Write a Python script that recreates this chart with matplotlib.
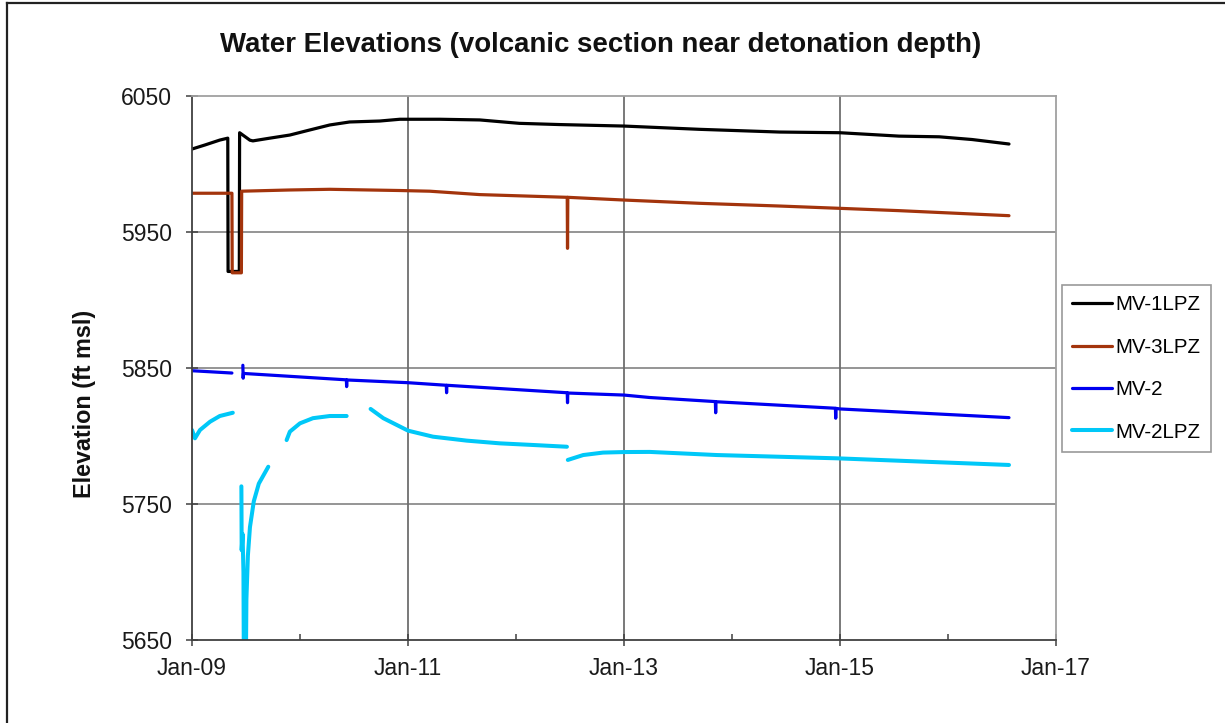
import matplotlib
matplotlib.use("Agg")
import matplotlib.pyplot as plt
import matplotlib.dates as mdates
from matplotlib.lines import Line2D
import numpy as np
import pandas as pd

plt.rcParams['font.family'] = ['Liberation Sans', 'DejaVu Sans']

# ---------------- data ----------------
mv1lpz_dates = ["2009-01-01", "2009-02-14", "2009-04-05", "2009-05-02", "2009-05-03", "2009-06-10",
                "2009-06-11", "2009-07-16", "2009-07-26", "2009-09-21", "2009-11-28", "2010-02-03",
                "2010-04-12", "2010-06-18", "2010-09-28", "2010-12-05", "2011-04-19", "2011-09-01",
                "2012-01-13", "2012-05-28", "2013-01-01", "2013-09-13", "2014-06-11", "2015-01-01",
                "2015-07-20", "2015-12-03", "2016-03-23", "2016-07-26"]
mv1lpz_vals = [6011.0, 6014.0, 6017.6, 6019.0, 5921.0, 5921.0,
               6023.0, 6017.5, 6017.0, 6019.0, 6021.3, 6025.0,
               6028.7, 6030.9, 6031.6, 6032.9, 6032.9, 6032.4,
               6029.9, 6029.0, 6027.9, 6025.5, 6023.5, 6023.0,
               6020.5, 6020.0, 6018.0, 6014.7]

mv3lpz_dates = ["2009-01-01", "2009-05-16", "2009-05-17", "2009-06-17", "2009-06-18", "2009-11-28",
                "2010-04-12", "2010-12-05", "2011-03-16", "2011-09-01", "2012-06-23", "2012-06-24",
                "2012-06-25", "2013-01-01", "2013-09-13", "2014-06-11", "2015-01-01", "2015-07-20",
                "2016-07-26"]
mv3lpz_vals = [5978.5, 5978.5, 5920.0, 5920.0, 5980.0, 5980.9,
               5981.4, 5980.5, 5980.0, 5977.5, 5975.5, 5938.0,
               5975.5, 5973.5, 5971.1, 5969.1, 5967.4, 5965.7,
               5962.0]

mv2_dates = ["2009-01-01", "2009-05-16", "2009-05-30", "2009-06-22", "2009-06-23", "2009-06-24",
             "2010-06-07", "2010-06-08", "2010-06-09", "2011-01-01", "2011-05-11", "2011-05-12",
             "2011-05-13", "2012-06-23", "2012-06-24", "2012-06-25", "2013-01-01", "2013-03-29",
             "2013-11-06", "2013-11-07", "2013-11-08", "2014-12-17", "2014-12-18", "2014-12-19",
             "2015-01-01", "2016-07-26"]
mv2_vals = [5848.0, 5846.3, np.nan, 5852.0, 5842.5, 5846.0,
            5841.3, 5836.3, 5841.2, 5839.2, 5837.3, 5831.8,
            5837.3, 5831.8, 5824.5, 5831.6, 5830.1, 5828.3,
            5825.3, 5817.1, 5825.2, 5820.4, 5813.1, 5820.3,
            5819.9, 5813.5]

mv2lpz_dates = ["2009-01-01", "2009-01-11", "2009-01-28", "2009-03-03", "2009-04-05", "2009-05-19",
                "2009-06-01",
                "2009-06-17", "2009-06-18", "2009-06-21", "2009-06-24", "2009-06-26", "2009-07-01",
                "2009-07-04", "2009-07-09", "2009-07-16", "2009-07-29", "2009-08-15", "2009-09-16",
                "2009-10-15",
                "2009-11-17", "2009-11-28", "2010-01-01", "2010-02-14", "2010-04-12", "2010-06-08",
                "2010-07-15",
                "2010-08-28", "2010-10-10", "2011-01-02", "2011-03-27", "2011-07-19", "2011-11-08",
                "2012-02-28", "2012-06-22",
                "2012-06-23",
                "2012-06-25", "2012-08-16", "2012-10-22", "2013-01-01", "2013-03-29", "2013-11-11",
                "2014-12-21", "2016-07-26"]
mv2lpz_vals = [5804.4, 5798.3, 5804.4, 5810.5, 5814.7, 5817.1,
               np.nan,
               5763.0, 5716.0, 5728.0, 5700.0, 5600.0, 5600.0,
               5680.0, 5712.0, 5733.0, 5752.0, 5765.0, 5777.4,
               np.nan,
               5797.0, 5803.2, 5809.3, 5813.1, 5814.7, 5814.7,
               np.nan,
               5819.9, 5813.1, 5803.9, 5799.5, 5796.6, 5794.6,
               5793.4, 5792.1,
               np.nan,
               5782.4, 5786.0, 5787.8, 5788.2, 5788.3, 5786.0,
               5783.6, 5778.7]

series_names = ["MV-1LPZ", "MV-3LPZ", "MV-2", "MV-2LPZ"]
series_colors = ["#000000", "#A3340C", "#0000F0", "#00C8F8"]

y_ticks = [5650, 5750, 5850, 5950, 6050]
x_tick_labels = ["Jan-09", "Jan-11", "Jan-13", "Jan-15", "Jan-17"]
x_tick_dates = ["2009-01-01", "2011-01-01", "2013-01-01", "2015-01-01", "2017-01-01"]

# ---------------- figure ----------------
fig = plt.figure(figsize=(12.25, 7.23), dpi=100)
ax = fig.add_axes([192/1225, 1 - 640/723, (1056-192)/1225, (640-96)/723])

series = [(mv1lpz_dates, mv1lpz_vals), (mv3lpz_dates, mv3lpz_vals),
          (mv2_dates, mv2_vals), (mv2lpz_dates, mv2lpz_vals)]
widths = [2.3, 2.3, 2.3, 2.9]
handles = []
for (d, v), name, c, w in zip(series, series_names, series_colors, widths):
    h, = ax.plot(pd.to_datetime(d), v, color=c, lw=w, label=name,
                 solid_capstyle='round', solid_joinstyle='round')
    handles.append(h)

ax.set_xlim(pd.Timestamp("2009-01-01"), pd.Timestamp("2017-01-01"))
ax.set_ylim(5650, 6050)
ax.set_yticks(y_ticks)
ax.set_xticks(pd.to_datetime(x_tick_dates))
ax.set_xticklabels(x_tick_labels)
ax.xaxis.set_minor_locator(mdates.YearLocator(1))

ax.grid(False)
for yv in y_ticks[1:-1]:
    ax.axhline(yv, color="#8C8C8C", lw=1.3, zorder=0.5)
for xd in x_tick_dates[1:-1]:
    ax.axvline(pd.Timestamp(xd), color="#6E6E6E", lw=1.3, zorder=0.5)

for s in ["top", "right"]:
    ax.spines[s].set_color("#A0A0A0")
    ax.spines[s].set_linewidth(1.3)
for s in ["left", "bottom"]:
    ax.spines[s].set_color("#404040")
    ax.spines[s].set_linewidth(1.3)

ax.tick_params(axis='both', which='major', direction='inout', length=9, width=1.1,
               color="#404040", labelsize=16.5, labelcolor="#1a1a1a")
ax.tick_params(axis='y', which='major', pad=10)
ax.tick_params(axis='x', which='major', pad=8)
ax.tick_params(axis='x', which='minor', direction='in', length=4, width=1.1, color="#404040")

fig.text(85/1225, 1 - 404/723, "Elevation (ft msl)", rotation=90, fontsize=16.8,
         fontweight='bold', ha='center', va='center', color="#111111")
fig.text(601/1225, 1 - 45/723, "Water Elevations (volcanic section near detonation depth)",
         fontsize=19.9, fontweight='bold', ha='center', va='center', color="#111111")

leg = fig.legend(handles=handles, labels=series_names, loc='upper left',
                 bbox_to_anchor=(1062/1225, 1 - 285/723), borderaxespad=0,
                 fontsize=14.8, handlelength=1.95, handletextpad=0.15, labelspacing=1.14,
                 borderpad=0.5, fancybox=False, frameon=True)
leg.get_frame().set_edgecolor("#808080")
leg.get_frame().set_linewidth(1.2)

# figure border (top and left)
fig.add_artist(Line2D([7/1225, 1], [1 - 3/723, 1 - 3/723], color="#222222", lw=1.6,
                      transform=fig.transFigure))
fig.add_artist(Line2D([7/1225, 7/1225], [0, 1 - 3/723], color="#222222", lw=1.6,
                      transform=fig.transFigure))

fig.savefig("out.png", dpi=100)
